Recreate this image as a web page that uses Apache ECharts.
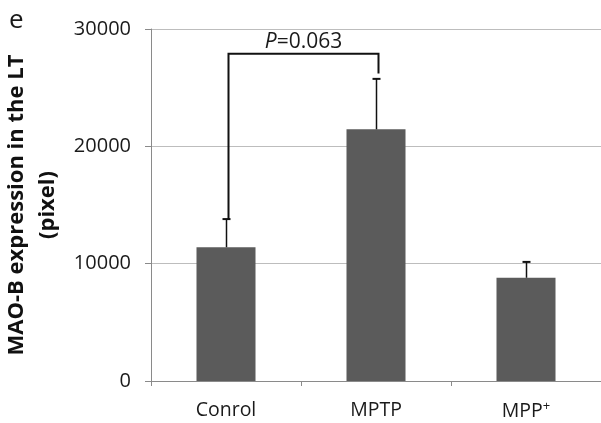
<!DOCTYPE html>
<html>
<head>
<meta charset="utf-8">
<script src="https://cdn.jsdelivr.net/npm/echarts@6/dist/echarts.min.js"></script>
<style>html,body{margin:0;padding:0;background:#fff}#c{width:601px;height:423px}</style>
</head>
<body>
<div id="c"></div>
<script>
var categories = ['Conrol', 'MPTP', 'MPP+'];
var means = [11400, 21450, 8800];
var errUpper = [13800, 25750, 10150];
var yTicks = [0, 10000, 20000, 30000];
// significance bracket: [leftCategoryIndex, rightCategoryIndex, bracketTop, leftLegBottom, rightLegBottom]
var bracket = [0, 1, 27900, 13800, 26200];
var pLabel = 'P=0.063';

var chart = echarts.init(document.getElementById('c'), null, {renderer: 'canvas'});
var FONT = '"Open Sans", "DejaVu Sans", sans-serif';

chart.setOption({
  animation: false,
  title: {
    text: 'e', left: 4, top: 3,
    textStyle: {fontFamily: FONT, fontSize: 26, fontWeight: 'normal', color: '#1a1a1a'}
  },
  grid: {left: 151, right: 0, top: 29, bottom: 42, containLabel: false, outerBoundsMode: 'none'},
  xAxis: {
    type: 'category',
    data: categories,
    axisLine: {lineStyle: {color: '#8a8a8a', width: 1}},
    axisTick: {show: true, alignWithLabel: false, length: 5, lineStyle: {color: '#8a8a8a'}},
    axisLabel: {
      fontFamily: FONT, fontSize: 19.5, color: '#1a1a1a', margin: 19,
      formatter: function (v) { return v === 'MPP+' ? 'MPP{sup|+}' : v; },
      rich: {sup: {fontFamily: FONT, fontSize: 13, verticalAlign: 'top', padding: [0, 0, 9, 0], color: '#1a1a1a'}}
    }
  },
  yAxis: {
    type: 'value',
    min: yTicks[0], max: yTicks[yTicks.length - 1], interval: 10000,
    name: 'MAO-B expression in the LT\n(pixel)',
    nameLocation: 'middle',
    nameRotate: 90,
    nameGap: 85,
    nameTextStyle: {fontFamily: FONT, fontSize: 22, fontWeight: 'bold', color: '#111', lineHeight: 31},
    axisLine: {show: true, lineStyle: {color: '#8a8a8a', width: 1}},
    axisTick: {show: true, length: 6, lineStyle: {color: '#8a8a8a'}},
    axisLabel: {fontFamily: FONT, fontSize: 20, color: '#1a1a1a', margin: 20,
      formatter: function (v) { return String(v); }},
    splitLine: {lineStyle: {color: '#bdbdbd', width: 1}}
  },
  series: [
    {
      type: 'bar',
      data: means,
      barWidth: 59,
      itemStyle: {color: '#5b5b5b'},
      z: 2
    },
    {
      type: 'custom',
      z: 3,
      data: categories.map(function (c, i) { return [i, means[i], errUpper[i]]; }),
      renderItem: function (params, api) {
        var base = api.coord([api.value(0), api.value(1)]);
        var top = api.coord([api.value(0), api.value(2)]);
        var x = Math.round(base[0]) + 0.5;
        return {
          type: 'group',
          children: [
            {type: 'line', shape: {x1: x, y1: base[1], x2: x, y2: top[1]}, style: {stroke: '#111', lineWidth: 1.5}},
            {type: 'line', shape: {x1: x - 4, y1: top[1], x2: x + 4, y2: top[1]}, style: {stroke: '#111', lineWidth: 2}}
          ]
        };
      }
    },
    {
      type: 'custom',
      z: 4,
      data: [bracket],
      renderItem: function (params, api) {
        var l = api.coord([api.value(0), api.value(2)]);
        var r = api.coord([api.value(1), api.value(2)]);
        var lb = api.coord([api.value(0), api.value(3)]);
        var rb = api.coord([api.value(1), api.value(4)]);
        var xl = Math.round(l[0]) + 2.5, xr = Math.round(r[0]) + 2.5;
        var parts = pLabel.split('=');
        return {
          type: 'group',
          children: [
            {type: 'polyline', shape: {points: [[xl, lb[1]], [xl, l[1]], [xr, l[1]], [xr, rb[1]]]}, style: {stroke: '#111', lineWidth: 2, fill: null}},
            {type: 'text', x: (xl + xr) / 2, y: l[1] - 1, style: {
              text: '{i|' + parts[0] + '}{n|=' + parts[1] + '}', align: 'center', verticalAlign: 'bottom',
              rich: {
                i: {fontFamily: FONT, fontSize: 21, fontStyle: 'italic', fill: '#1a1a1a', color: '#1a1a1a'},
                n: {fontFamily: FONT, fontSize: 21, fill: '#1a1a1a', color: '#1a1a1a'}
              }
            }}
          ]
        };
      }
    }
  ]
});
</script>
</body>
</html>
